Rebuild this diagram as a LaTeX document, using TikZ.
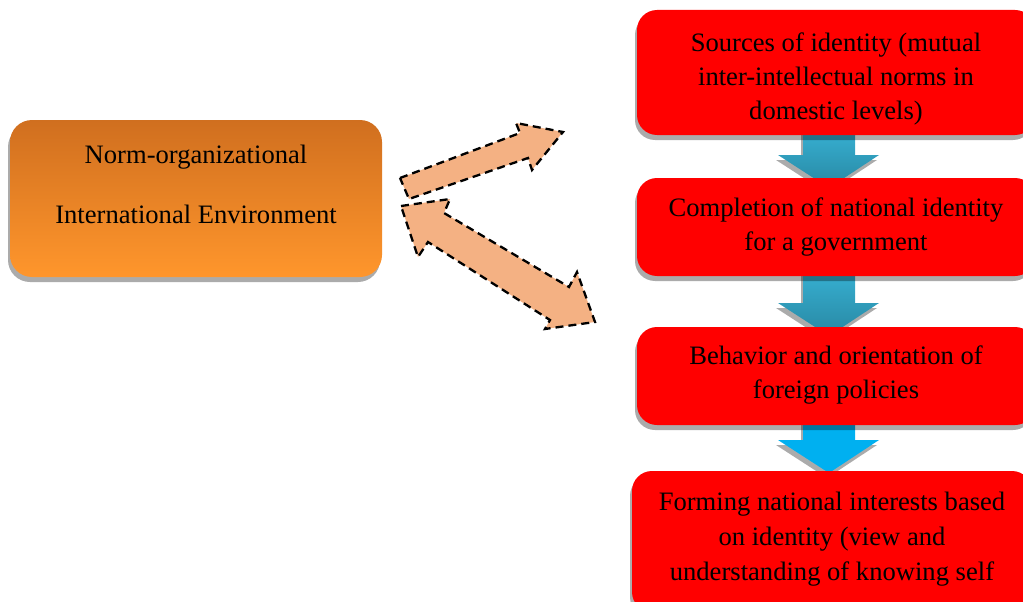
\documentclass[tikz,border=0pt]{standalone}
\usepackage{fontspec}
\setmainfont{Liberation Serif}
\definecolor{boxred}{RGB}{255,0,0}
\definecolor{peachc}{RGB}{244,177,131}
\definecolor{tealtop}{RGB}{55,176,210}
\definecolor{tealbot}{RGB}{40,136,163}
\definecolor{cyanarr}{RGB}{0,176,240}
\definecolor{orangetop}{RGB}{208,111,31}
\definecolor{orangebot}{RGB}{255,150,44}
\begin{document}
\begin{tikzpicture}[x=1pt,y=-1pt,
  redbox/.style={fill=boxred, rounded corners=20pt, minimum width=398pt, inner sep=0pt},
  shadowbox/.style={fill=black, opacity=0.33, rounded corners=20pt, inner sep=0pt},
  txt/.style={font=\fontsize{26.6}{34}\selectfont, align=center, inner sep=0pt, text=black},
  peach/.style={fill=peachc, draw=black, line width=2.3pt, dash pattern=on 8pt off 5pt, line join=miter},
  arrshadow/.style={fill=black, opacity=0.33},
  tealarr/.style={top color=tealtop, bottom color=tealbot, draw=none},
  cyanarrow/.style={fill=cyanarr, draw=none},
]
\useasboundingbox (0,0) rectangle (1023,602);
\clip (0,0) rectangle (1023,602);

% down arrow shadows
\fill[arrshadow] (801,135) -- (853,135) -- (853,160) -- (877,160) -- (827,193) -- (776,160) -- (801,160) -- cycle;
\fill[arrshadow] (801,275) -- (853,275) -- (853,308) -- (877,308) -- (827,341) -- (776,308) -- (801,308) -- cycle;
\fill[arrshadow] (801,425) -- (853,425) -- (853,445) -- (877,445) -- (827,478) -- (776,445) -- (801,445) -- cycle;

% down arrows
\path[tealarr] (803,130) -- (855,130) -- (855,155) -- (879,155) -- (829,188) -- (778,155) -- (803,155) -- cycle;
\path[tealarr] (803,270) -- (855,270) -- (855,303) -- (879,303) -- (829,336) -- (778,303) -- (803,303) -- cycle;
\fill[cyanarrow] (803,420) -- (855,420) -- (855,440) -- (879,440) -- (829,473) -- (778,440) -- (803,440) -- cycle;

% box shadows
\node[shadowbox, minimum width=398pt, minimum height=125pt] (s1) at (834,77.5) {};
\node[shadowbox, minimum width=398pt, minimum height=98pt] (s2) at (834,232) {};
\node[shadowbox, minimum width=398pt, minimum height=98pt] (s3) at (834,381) {};
\node[shadowbox, minimum width=400pt, minimum height=141pt] (s4) at (830,546.5) {};
\node[shadowbox, rounded corners=22pt, minimum width=372pt, minimum height=157pt] (sL) at (194,203.5) {};

% boxes
\node[redbox, minimum height=125pt] (b1) at (836,72.5) {};
\node[redbox, minimum height=98pt] (b2) at (836,227) {};
\node[redbox, minimum height=98pt] (b3) at (836,376) {};
\node[redbox, minimum width=400pt, minimum height=141pt] (b4) at (832,541.5) {};
\node[top color=orangetop, bottom color=orangebot, rounded corners=22pt, minimum width=372pt, minimum height=157pt, inner sep=0pt] (L) at (196,198.5) {};

% texts
\node[txt] (t1) at (836,78.5) {Sources of identity (mutual\\inter-intellectual norms in\\domestic levels)};
\node[txt] (t2) at (836,227) {Completion of national identity\\for a government};
\node[txt] (t3) at (836,375) {Behavior and orientation of\\foreign policies};
\node[txt, font=\fontsize{26.6}{35}\selectfont] (t4) at (832,539.5) {Forming national interests based\\on identity (view and\\understanding of knowing self};
\node[txt, font=\fontsize{26.6}{60}\selectfont] (tL) at (196,184) {Norm-organizational\\International Environment};

% peach arrows
\draw[peach] (400,178) -- (520,133) -- (516,123) -- (563,132) -- (532,170) -- (528,158) -- (409,199) -- cycle;
\draw[peach] (401,206) -- (450,199) -- (444,213) -- (569,287) -- (577,272) -- (595,322) -- (545,329) -- (550,320) -- (428,242) -- (418,257) -- cycle;
\end{tikzpicture}
\end{document}
